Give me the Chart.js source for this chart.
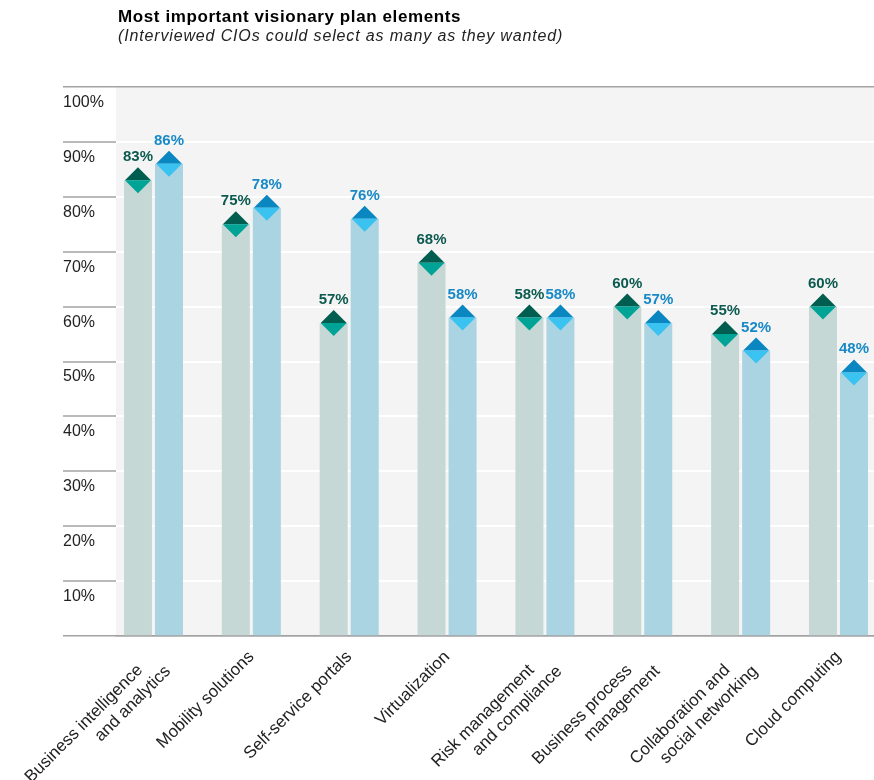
<!DOCTYPE html>
<html>
<head>
<meta charset="utf-8">
<title>Most important visionary plan elements</title>
<script src="https://cdn.jsdelivr.net/npm/chart.js@4.4.0/dist/chart.umd.min.js"></script>
<style>
    html, body { margin: 0; padding: 0; background: #fff; }
    #wrap { position: relative; width: 874px; height: 780px; }
    #main-chart { position: absolute; left: 0; top: 0; }
    .judul { position: absolute; left: 118px; font-family: "Liberation Sans", Arial, sans-serif; white-space: nowrap; margin: 0; }
    #judul-utama { top: 7px; font-size: 17px; font-weight: bold; line-height: 20px; letter-spacing: 0.6px; color: #000; }
    #sub-judul { top: 26px; font-size: 16px; font-style: italic; line-height: 20px; letter-spacing: 0.85px; color: #222; }
</style>
</head>
<body>
<div id="wrap">
    <canvas id="main-chart" width="874" height="780"></canvas>
    <div class="judul" id="judul-utama">Most important visionary plan elements</div>
    <div class="judul" id="sub-judul">(Interviewed CIOs could select as many as they wanted)</div>
</div>
<script>
const kategori = [
    ["Business intelligence", "and analytics"],
    "Mobility solutions",
    "Self-service portals",
    "Virtualization",
    ["Risk management", "and compliance"],
    ["Business process", "management"],
    ["Collaboration and", "social networking"],
    "Cloud computing",
];
const nilai_hijau = [83, 75, 57, 68, 58, 60, 55, 60];
const nilai_biru = [86, 78, 76, 58, 58, 57, 52, 48];
const y_ticks = [0, 10, 20, 30, 40, 50, 60, 70, 80, 90, 100];

const FONT = "'Liberation Sans', Arial, sans-serif";

// warna per seri: batang, belah ketupat atas/bawah, teks nilai
const gaya_seri = [
    { bar: "#c6d8d6", atas: "#005e50", bawah: "#00a496", teks: "#0c5a4f" },
    { bar: "#abd4e2", atas: "#0a86c1", bawah: "#3ac2f0", teks: "#1689c6" },
];

// latar abu-abu di area plot
const latar_plot = {
    id: "latar_plot",
    beforeDraw(chart) {
        const { ctx, chartArea } = chart;
        ctx.save();
        ctx.fillStyle = "#f4f4f4";
        ctx.fillRect(chartArea.left, chartArea.top, chartArea.right - chartArea.left, chartArea.bottom - chartArea.top);
        ctx.restore();
    },
};

// belah ketupat di ujung batang + label persen
const ujung_batang = {
    id: "ujung_batang",
    afterDatasetsDraw(chart) {
        const { ctx } = chart;
        ctx.save();
        chart.data.datasets.forEach((dataset, i) => {
            const gaya = gaya_seri[i];
            chart.getDatasetMeta(i).data.forEach((bar, j) => {
                const half = bar.width / 2 - 1;

                ctx.fillStyle = gaya.atas;
                ctx.beginPath();
                ctx.moveTo(bar.x - half, bar.y);
                ctx.lineTo(bar.x, bar.y - half);
                ctx.lineTo(bar.x + half, bar.y);
                ctx.closePath();
                ctx.fill();

                ctx.fillStyle = gaya.bawah;
                ctx.beginPath();
                ctx.moveTo(bar.x - half, bar.y);
                ctx.lineTo(bar.x, bar.y + half);
                ctx.lineTo(bar.x + half, bar.y);
                ctx.closePath();
                ctx.fill();

                ctx.fillStyle = gaya.teks;
                ctx.font = `bold 15px ${FONT}`;
                ctx.textAlign = "center";
                ctx.textBaseline = "alphabetic";
                ctx.fillText(`${dataset.data[j].y}%`, bar.x, bar.y - half - 6);
            });
        });
        ctx.restore();
    },
};

const buat_dataset = (nilai, i) => ({
    data: nilai.map((v, idx) => ({ x: idx, y: v })),
    backgroundColor: gaya_seri[i].bar,
    categoryPercentage: 0.634,
    barPercentage: 0.903,
});

const ctx = document.getElementById("main-chart").getContext("2d");
new Chart(ctx, {
    type: "bar",
    data: {
        datasets: [buat_dataset(nilai_hijau, 0), buat_dataset(nilai_biru, 1)],
    },
    options: {
        responsive: false,
        devicePixelRatio: 1,
        animation: false,
        layout: {
            padding: { left: 63, top: 87, right: 0, bottom: 0 },
        },
        plugins: {
            legend: { display: false },
            tooltip: { enabled: false },
        },
        scales: {
            x: {
                type: "linear",
                min: -0.383,
                max: 7.363,
                offset: false,
                bounds: "data",
                z: 1,
                afterBuildTicks: (scale) => {
                    scale.ticks = kategori.map((_, i) => ({ value: i }));
                },
                afterFit: (scale) => {
                    scale.height = 144;
                    scale.paddingLeft = 0;
                    scale.paddingRight = 0;
                },
                grid: { display: false, drawTicks: false },
                border: { display: true, color: "#a3a3a3", width: 1.5 },
                ticks: {
                    autoSkip: false,
                    minRotation: 45,
                    maxRotation: 45,
                    padding: 11,
                    color: "#222",
                    font: { family: FONT, size: 17 },
                    callback: (value) => {
                        const label = kategori[Math.round(value)];
                        // baris pertama digeser supaya ujung kedua baris sejajar
                        return Array.isArray(label) ? [label[0] + "    ", label[1]] : label;
                    },
                },
            },
            y: {
                min: 0,
                max: 100,
                afterBuildTicks: (scale) => {
                    scale.ticks = y_ticks.map((v) => ({ value: v }));
                },
                afterFit: (scale) => {
                    scale.width = 53;
                    scale.paddingTop = 0;
                    scale.paddingBottom = 0;
                },
                border: { display: false },
                grid: {
                    color: (c) => (c.tick.value === 0 || c.tick.value === 100 ? "#a3a3a3" : "#ffffff"),
                    lineWidth: (c) => (c.tick.value === 0 || c.tick.value === 100 ? 1.5 : 2),
                    tickLength: 53,
                    tickColor: "#a3a3a3",
                    tickWidth: 1.5,
                },
                ticks: {
                    autoSkip: false,
                    crossAlign: "far",
                    padding: 0,
                    color: "#222",
                    font: { family: FONT, size: 16, lineHeight: 1.94 },
                    callback: (value) => (value === 0 ? "" : ["", `${value}%`]),
                },
            },
        },
    },
    plugins: [latar_plot, ujung_batang],
});
</script>
</body>
</html>
